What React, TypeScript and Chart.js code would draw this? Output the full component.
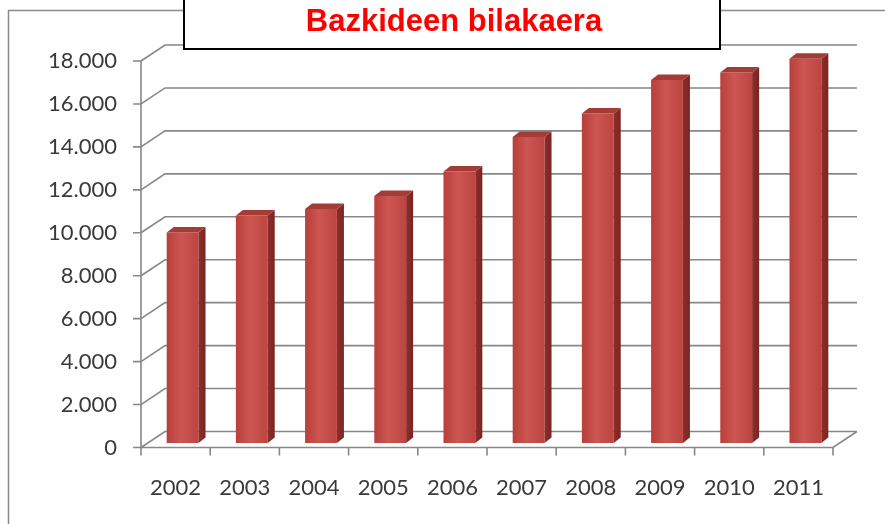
import React, { useEffect, useRef } from "react";
import { Chart, registerables } from "chart.js";

Chart.register(...registerables);

const years = ["2002", "2003", "2004", "2005", "2006", "2007", "2008", "2009", "2010", "2011"];
const members = [9800, 10600, 10900, 11500, 12650, 14250, 15350, 16900, 17250, 17900];
const yMin = 0;
const yMax = 18000;
const yStep = 2000;
const titleText = "Bazkideen bilakaera";

const DX = 24;
const DY = -16;
const BX = 7;
const BY = -4.5;
const SX = 7;
const SY = -5.5;
const BAR_PCT = 0.46;
const GRID = "#888888";

const fmt = (v: number) => String(v).replace(/\B(?=(\d{3})+(?!\d))/g, ".");

const threeD = {
  id: "threeD",
  beforeDraw(chart: any) {
    const ctx = chart.ctx;
    ctx.save();
    ctx.fillStyle = "#ffffff";
    ctx.fillRect(0, 0, chart.width, chart.height);
    ctx.strokeStyle = "#8a8a8a";
    ctx.lineWidth = 1.5;
    ctx.strokeRect(8.5, 10.5, 1200, 1200);
    ctx.restore();
  },
  beforeDatasetsDraw(chart: any) {
    const ctx = chart.ctx;
    const { left: L, right: R, top: T, bottom: B } = chart.chartArea;
    const ys = chart.scales.y;
    ctx.save();
    ctx.strokeStyle = GRID;
    ctx.lineWidth = 1.6;
    ctx.beginPath();
    ys.ticks.forEach((t: any) => {
      const y = ys.getPixelForValue(t.value);
      ctx.moveTo(L, y);
      ctx.lineTo(L + DX, y + DY);
      ctx.lineTo(R + DX, y + DY);
      ctx.moveTo(L - 8, y);
      ctx.lineTo(L, y);
    });
    ctx.moveTo(L, B);
    ctx.lineTo(R, B);
    ctx.lineTo(R + DX, B + DY);
    ctx.moveTo(L, T);
    ctx.lineTo(L, B + 8);
    const n = years.length;
    for (let i = 0; i <= n; i++) {
      const x = L + (i * (R - L)) / n;
      ctx.moveTo(x, B);
      ctx.lineTo(x, B + 8);
    }
    ctx.stroke();
    ctx.restore();
    ctx.save();
    ctx.translate(BX, BY);
  },
  afterDatasetsDraw(chart: any) {
    const ctx = chart.ctx;
    ctx.restore();
    const meta = chart.getDatasetMeta(0);
    ctx.save();
    meta.data.forEach((el: any) => {
      const { x, y, base, width } = el.getProps(["x", "y", "base", "width"], true);
      const xl = x - width / 2 + BX;
      const xr = x + width / 2 + BX;
      const yt = y + BY;
      const yb = base + BY;
      const sg = ctx.createLinearGradient(xr, 0, xr + SX, 0);
      sg.addColorStop(0, "#8f2e2b");
      sg.addColorStop(1, "#7a2421");
      ctx.fillStyle = sg;
      ctx.beginPath();
      ctx.moveTo(xr, yt);
      ctx.lineTo(xr + SX, yt + SY);
      ctx.lineTo(xr + SX, yb + SY);
      ctx.lineTo(xr, yb);
      ctx.closePath();
      ctx.fill();
      ctx.fillStyle = "#a33b37";
      ctx.beginPath();
      ctx.moveTo(xl, yt);
      ctx.lineTo(xr, yt);
      ctx.lineTo(xr + SX, yt + SY);
      ctx.lineTo(xl + SX, yt + SY);
      ctx.closePath();
      ctx.fill();
    });
    ctx.restore();
  },
};

export default function App() {
  const ref = useRef<HTMLCanvasElement | null>(null);
  useEffect(() => {
    if (!ref.current) return;
    const chart = new Chart(ref.current, {
      type: "bar",
      data: {
        labels: years,
        datasets: [
          {
            data: members,
            backgroundColor: (c: any) => {
              const ch = c.chart;
              const xs = ch.scales && ch.scales.x;
              if (c.type !== "data" || !xs || !ch.chartArea) return "#C0504D";
              const x = xs.getPixelForValue(c.dataIndex);
              const half = ((xs.right - xs.left) / years.length) * BAR_PCT / 2;
              const g = ch.ctx.createLinearGradient(x - half, 0, x + half, 0);
              g.addColorStop(0, "#b83f3b");
              g.addColorStop(0.45, "#cd5651");
              g.addColorStop(1, "#bd4541");
              return g;
            },
            borderWidth: 0,
            categoryPercentage: 1,
            barPercentage: BAR_PCT,
            clip: false as any,
          },
        ],
      },
      options: {
        responsive: false,
        animation: false,
        layout: { padding: { top: 61, right: 52, bottom: 0, left: 0 } },
        plugins: {
          legend: { display: false },
          tooltip: { enabled: false },
          title: { display: false },
        },
        scales: {
          x: {
            grid: { display: false },
            border: { display: false },
            ticks: {
              padding: 19,
              color: "#3a3a3a",
              font: { family: "Lato", size: 22 },
              maxRotation: 0,
            },
            afterFit: (s: any) => {
              s.height = 76.5;
            },
          },
          y: {
            min: yMin,
            max: yMax,
            grid: { display: false },
            border: { display: false },
            ticks: {
              stepSize: yStep,
              padding: 16,
              color: "#3a3a3a",
              font: { family: "Lato", size: 22 },
              callback: (v: any) => fmt(Number(v)),
            },
            afterFit: (s: any) => {
              s.width = 141;
            },
          },
        },
      },
      plugins: [threeD],
    });
    return () => chart.destroy();
  }, []);

  return (
    <div
      style={{
        position: "fixed",
        left: 0,
        top: 0,
        width: 885,
        height: 524,
        overflow: "hidden",
        background: "#fff",
      }}
    >
      <canvas ref={ref} width={885} height={524} style={{ display: "block" }} />
      <div
        style={{
          position: "absolute",
          left: 183,
          top: -4,
          width: 538,
          height: 54,
          boxSizing: "border-box",
          border: "2px solid #000",
          background: "#fff",
        }}
      />
      <div
        style={{
          position: "absolute",
          left: 185,
          top: 5,
          width: 538,
          lineHeight: "31px",
          textAlign: "center",
          fontFamily: "'Liberation Sans', Arial, sans-serif",
          fontWeight: "bold",
          fontSize: 31,
          color: "#ff0000",
          whiteSpace: "nowrap",
        }}
      >
        {titleText}
      </div>
    </div>
  );
}
